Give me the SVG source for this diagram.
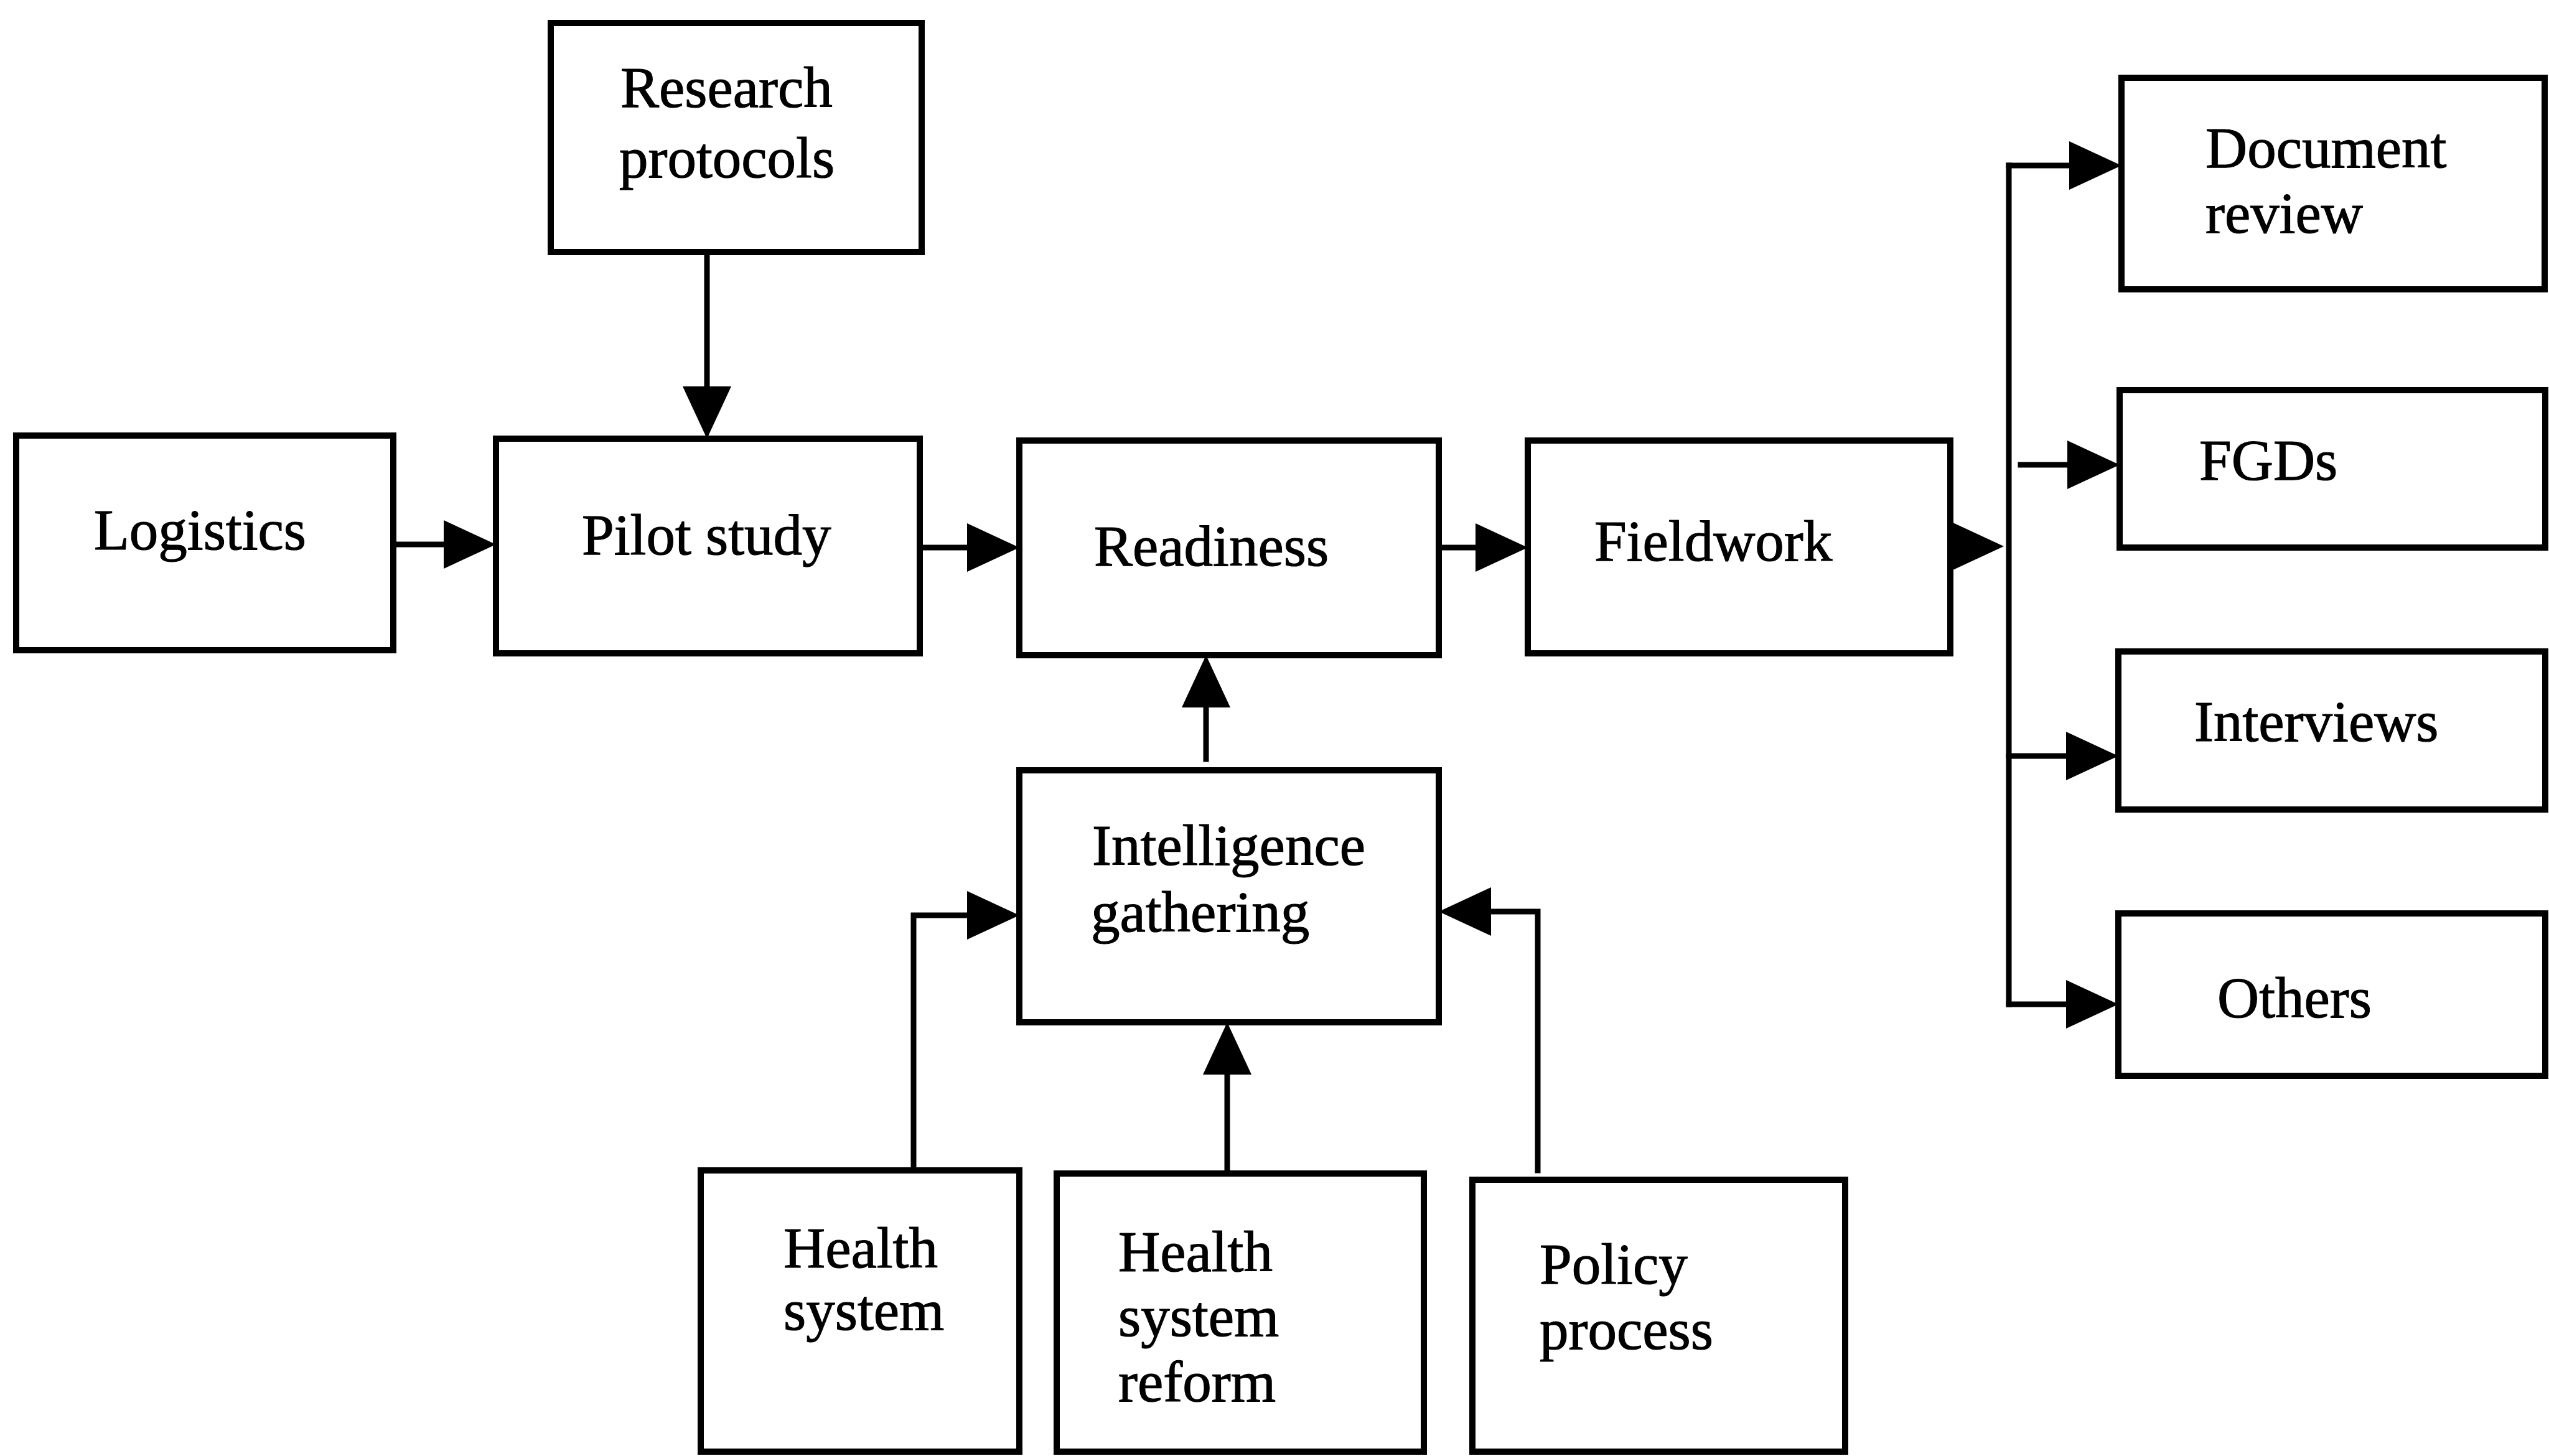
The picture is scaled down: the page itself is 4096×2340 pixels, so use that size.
<svg xmlns="http://www.w3.org/2000/svg" width="4096" height="2340" viewBox="0 0 4096 2340">
  <style>
    .box { fill: #ffffff; stroke: #000000; stroke-width: 10; }
    .lbl { font-family: "Liberation Serif", "Times New Roman", serif; font-size: 93px; fill: #000000; stroke: #000000; stroke-width: 1.2; }
    .wire { fill: none; stroke: #000000; stroke-width: 9; stroke-linecap: square; }
    .arr { marker-end: url(#head); }
  </style>
  <defs>
    <marker id="head" viewBox="0 0 84 78" refX="22" refY="39" markerWidth="84" markerHeight="78" markerUnits="userSpaceOnUse" orient="auto">
      <path d="M0,0 L84,39 L0,78 Z" fill="#000000"/>
    </marker>
  </defs>
  <rect width="4096" height="2340" fill="#ffffff"/>

  <!-- connectors: line ends sit 62px short of the arrow tip -->
  <g id="connectors">
    <!-- research protocols down to pilot study -->
    <path class="wire arr" d="M1136,405 L1136,643"/>
    <!-- main chain -->
    <path class="wire arr" d="M632,875 L735,875"/>
    <path class="wire arr" d="M1478,880 L1576,880"/>
    <path class="wire arr" d="M2312,880 L2393,880"/>
    <path class="wire arr" d="M3134,878 L3158,878"/>
    <!-- distribution bus -->
    <path class="wire" d="M3228,266 L3228,1614"/>
    <path class="wire arr" d="M3228,266 L3347,266"/>
    <path class="wire arr" d="M3247,747 L3344,747"/>
    <path class="wire arr" d="M3228,1215 L3342,1215"/>
    <path class="wire arr" d="M3228,1614 L3342,1614"/>
    <!-- intelligence gathering up to readiness -->
    <path class="wire arr" d="M1938,1220 L1938,1115"/>
    <!-- inputs to intelligence gathering -->
    <path class="wire arr" d="M1468,1881 L1468,1471 L1576,1471"/>
    <path class="wire arr" d="M1972,1886 L1972,1705"/>
    <path class="wire arr" d="M2471,1881 L2471,1465 L2374,1465"/>
  </g>

  <g id="research-protocols">
    <rect class="box" x="885" y="37" width="596" height="368"/>
    <text class="lbl" x="997" y="172">Research</text>
    <text class="lbl" x="995" y="285">protocols</text>
  </g>
  <g id="logistics">
    <rect class="box" x="26" y="700" width="606" height="345"/>
    <text class="lbl" x="151" y="883">Logistics</text>
  </g>
  <g id="pilot-study">
    <rect class="box" x="797" y="705" width="681" height="345"/>
    <text class="lbl" x="935" y="891">Pilot study</text>
  </g>
  <g id="readiness">
    <rect class="box" x="1638" y="708" width="674" height="345"/>
    <text class="lbl" x="1758" y="909">Readiness</text>
  </g>
  <g id="fieldwork">
    <rect class="box" x="2455" y="708" width="679" height="342"/>
    <text class="lbl" x="2562" y="901">Fieldwork</text>
  </g>
  <g id="document-review">
    <rect class="box" x="3409" y="125" width="680" height="340"/>
    <text class="lbl" x="3544" y="269">Document</text>
    <text class="lbl" x="3544" y="374">review</text>
  </g>
  <g id="fgds">
    <rect class="box" x="3406" y="627" width="684" height="253"/>
    <text class="lbl" x="3534" y="771">FGDs</text>
  </g>
  <g id="interviews">
    <rect class="box" x="3404" y="1047" width="686" height="254"/>
    <text class="lbl" x="3526" y="1191">Interviews</text>
  </g>
  <g id="others">
    <rect class="box" x="3404" y="1468" width="686" height="261"/>
    <text class="lbl" x="3563" y="1635">Others</text>
  </g>
  <g id="intelligence-gathering">
    <rect class="box" x="1638" y="1238" width="674" height="405"/>
    <text class="lbl" x="1755" y="1390">Intelligence</text>
    <text class="lbl" x="1753" y="1497">gathering</text>
  </g>
  <g id="health-system">
    <rect class="box" x="1126" y="1881" width="512" height="452"/>
    <text class="lbl" x="1259" y="2037">Health</text>
    <text class="lbl" x="1259" y="2137">system</text>
  </g>
  <g id="health-system-reform">
    <rect class="box" x="1698" y="1886" width="590" height="447"/>
    <text class="lbl" x="1797" y="2043">Health</text>
    <text class="lbl" x="1797" y="2147">system</text>
    <text class="lbl" x="1797" y="2252">reform</text>
  </g>
  <g id="policy-process">
    <rect class="box" x="2366" y="1896" width="599" height="437"/>
    <text class="lbl" x="2474" y="2063">Policy</text>
    <text class="lbl" x="2474" y="2168">process</text>
  </g>
</svg>
